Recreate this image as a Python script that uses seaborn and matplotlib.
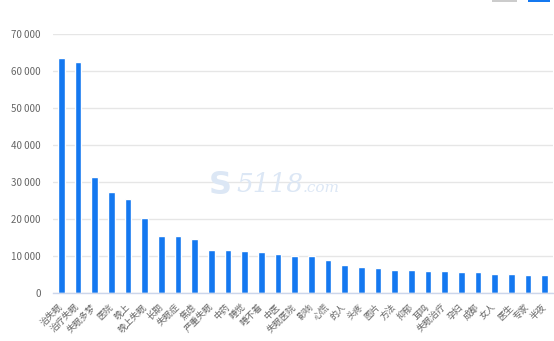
import matplotlib
matplotlib.use("Agg")
import matplotlib.pyplot as plt
import seaborn as sns
import pandas as pd
from matplotlib.ticker import FuncFormatter, FixedLocator
from matplotlib.patches import Rectangle

categories = ["治失眠", "治疗失眠", "失眠多梦", "医院", "晚上", "晚上失眠", "长期", "失眠症", "焦虑",
              "严重失眠", "中药", "睡觉", "睡不着", "中医", "失眠医院", "影响", "心慌", "的人", "头疼",
              "图片", "方法", "抑郁", "耳鸣", "失眠治疗", "孕妇", "成都", "女人", "医生", "专家", "半夜"]
values = [63500, 62300, 31400, 27200, 25300, 20150, 15450, 15450, 14650, 11750,
          11750, 11400, 10950, 10600, 9950, 9950, 9050, 7500, 6900, 6700,
          6350, 6350, 5950, 5950, 5700, 5700, 5250, 5050, 4900, 4900]
y_ticks = [0, 10000, 20000, 30000, 40000, 50000, 60000, 70000]

sns.set_style("white")
plt.rcParams['font.family'] = ['Noto Sans CJK SC', 'DejaVu Sans']

df = pd.DataFrame({"cat": categories, "val": values})
fig = plt.figure(figsize=(5.54, 3.41), dpi=100)
ax = fig.add_axes([53/554, 1-293/341, 500/554, (293-34)/341])

sns.barplot(data=df, x="cat", y="val", color="#1478f0", width=0.4, ax=ax, saturation=1)

ax.set_ylim(0, 70000)
ax.set_xlim(-0.5, len(categories)-0.5)
ax.yaxis.set_major_locator(FixedLocator(y_ticks))
ax.yaxis.set_major_formatter(FuncFormatter(lambda v, p: f"{int(v):,}".replace(",", " ")))
ax.grid(axis='y', color='#e6e6e6', linewidth=1)
ax.set_axisbelow(True)
for s in ['top', 'right', 'left']:
    ax.spines[s].set_visible(False)
ax.spines['bottom'].set_color('#ccd6eb')
ax.spines['bottom'].set_linewidth(1)
ax.set_xlabel("")
ax.set_ylabel("")
ax.tick_params(axis='y', length=0, labelsize=7, labelcolor='#666666', pad=9)
ax.tick_params(axis='x', which='major', length=0, labelsize=6.5, labelcolor='#666666', pad=9)
ax.set_xticks(range(len(categories)))
ax.set_xticklabels(categories, rotation=45, ha='right', va='center', rotation_mode='anchor')
ax.set_xticks([i - 0.5 for i in range(len(categories)+1)], minor=True)
ax.tick_params(axis='x', which='minor', length=5, color='#ccd6eb', width=1)

wm = '#dce7f5'
fig.text(220/554, 1-185/341, "S", fontsize=23, fontweight='bold', color=wm,
         family=['DejaVu Sans'], ha='center', va='center', zorder=0)
fig.text(236/554, 1-192/341, "5118", fontsize=19, style='italic', color=wm,
         family=['DejaVu Serif'], ha='left', va='baseline', zorder=0)
fig.text(303/554, 1-192/341, ".com", fontsize=11, style='italic', color=wm,
         family=['DejaVu Serif'], ha='left', va='baseline', zorder=0)

fig.patches.append(Rectangle((492/554, 1-2/341), 25/554, 2/341, transform=fig.transFigure,
                             facecolor='#cccccc', edgecolor='none'))
fig.patches.append(Rectangle((528/554, 1-2/341), 22/554, 2/341, transform=fig.transFigure,
                             facecolor='#1478f0', edgecolor='none'))

fig.savefig("out.png", dpi=100)
